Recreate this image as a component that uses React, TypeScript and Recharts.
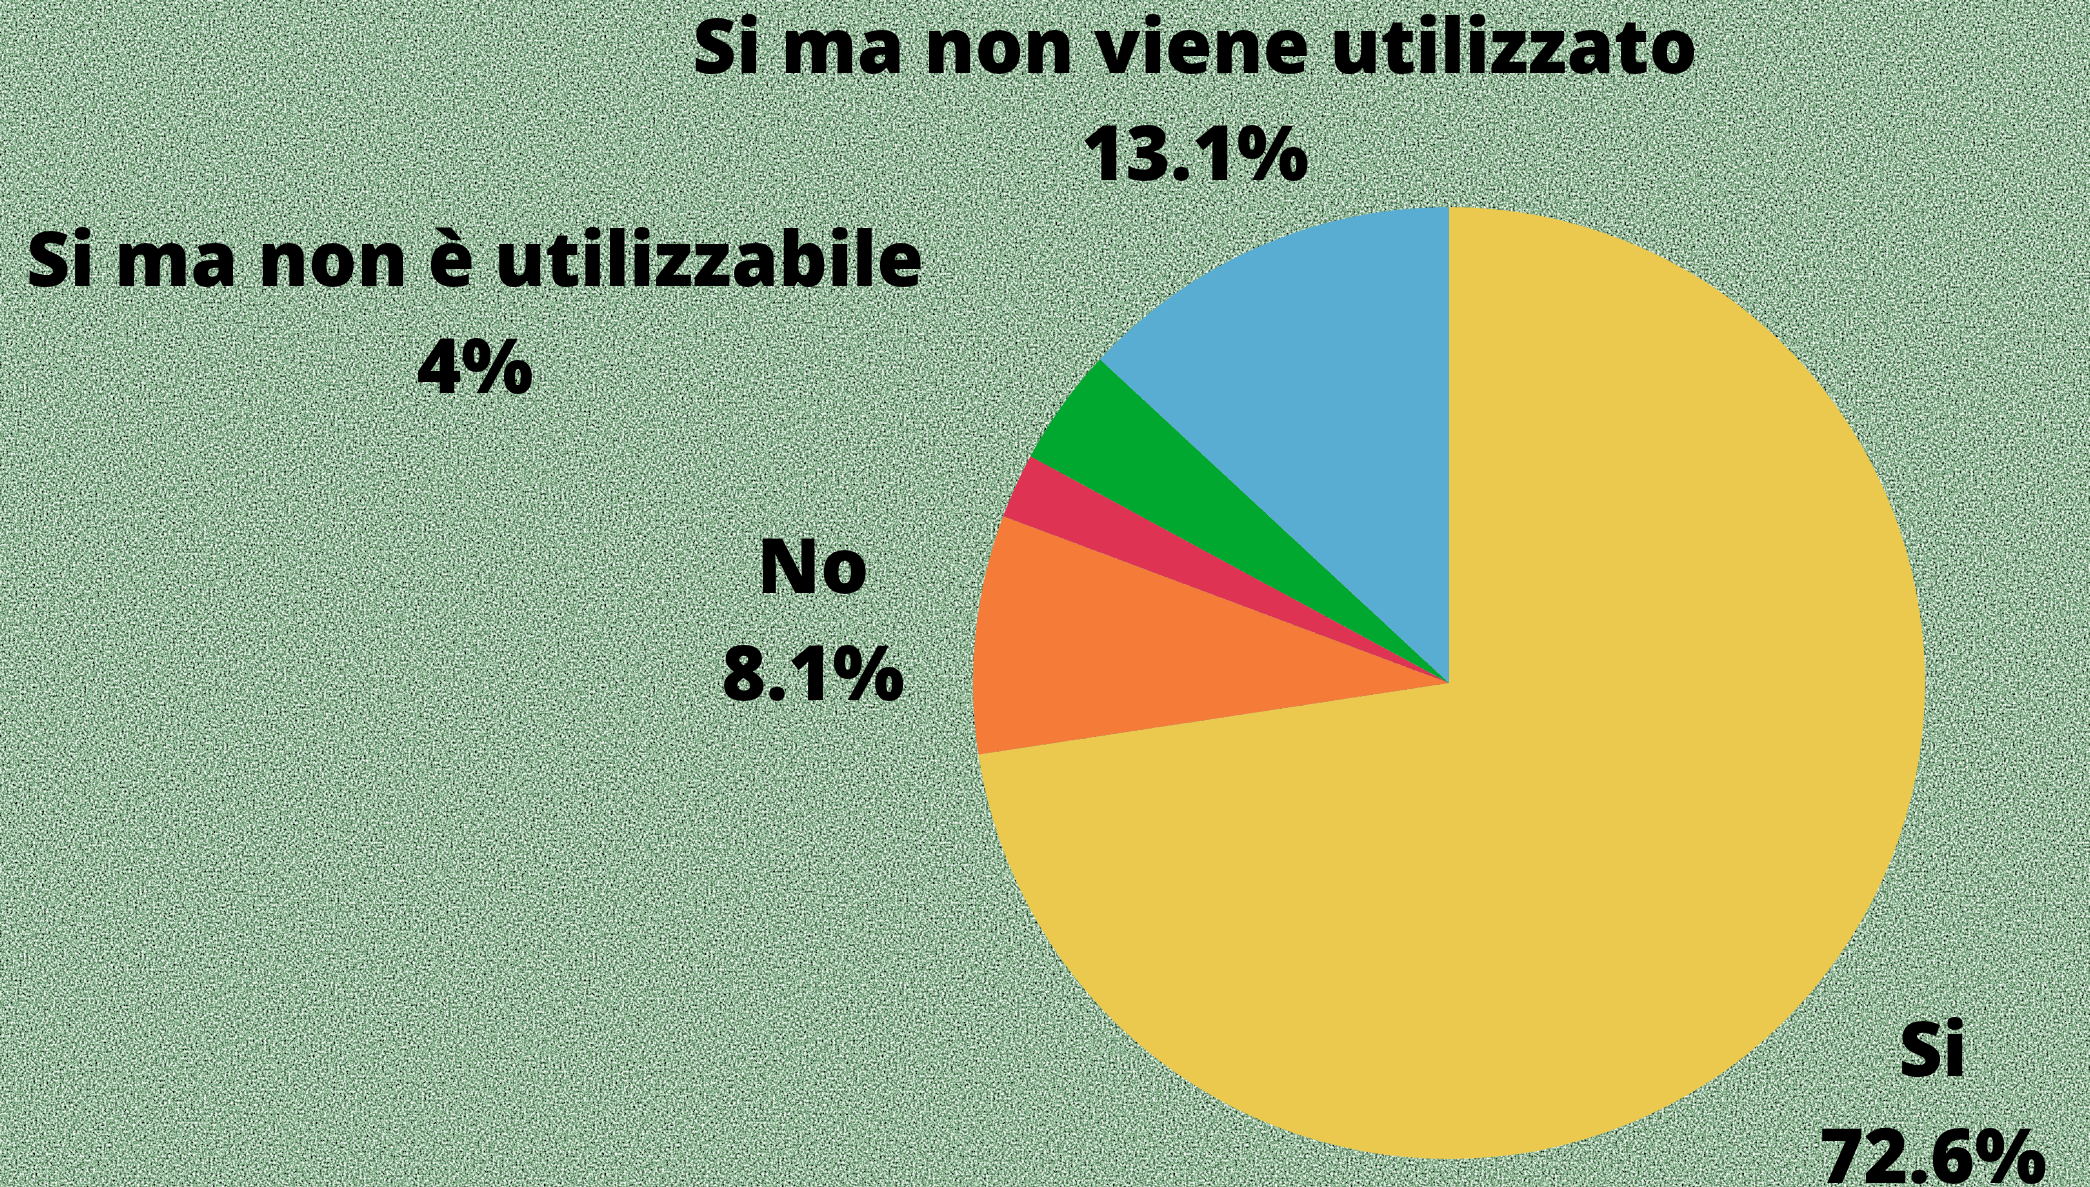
import { PieChart, Pie, Cell } from "recharts";

const labels = ["Si", "No", "Non so", "Si ma non è utilizzabile", "Si ma non viene utilizzato"];
const values = [72.6, 8.1, 2.2, 4, 13.1];
const valueText = ["72.6%", "8.1%", "", "4%", "13.1%"];
const showLabel = [true, true, false, true, true];

const COLORS = ["#EBC94F", "#F47B38", "#DE3353", "#00A82F", "#59ADD3"];
// label anchor offsets from the pie centre (first line baseline)
const LABEL_OFFSETS: [number, number][] = [
  [484, 393],
  [-636, -90],
  [0, 0],
  [-974, -397],
  [-254, -610],
];

const W = 2090;
const H = 1187;

const data = labels.map((name, i) => ({ name, value: values[i] }));

function renderLabel(props: any) {
  const { cx, cy, index } = props;
  if (!showLabel[index]) return null;
  const [dx, dy] = LABEL_OFFSETS[index];
  const x = cx + dx;
  const y = cy + dy;
  return (
    <text
      key={`lbl-${index}`}
      x={x}
      y={y}
      textAnchor="middle"
      fill="#000"
      style={{ fontFamily: "'Open Sans', sans-serif", fontWeight: 800, fontSize: 76 }}
    >
      <tspan x={x} y={y}>{labels[index]}</tspan>
      <tspan x={x} y={y + 107}>{valueText[index]}</tspan>
    </text>
  );
}

function Background() {
  return (
    <svg width={W} height={H} style={{ position: "absolute", left: 0, top: 0 }}>
      <defs>
        <filter id="grain" x="0" y="0" width="100%" height="100%">
          <feTurbulence type="fractalNoise" baseFrequency="0.45" numOctaves={2} seed={3} result="noise" />
          <feColorMatrix
            in="noise"
            type="matrix"
            values="1.7 0 0 0 -0.35  1.7 0 0 0 -0.35  1.7 0 0 0 -0.35  0 0 0 0 1"
            result="gray"
          />
          <feBlend in="SourceGraphic" in2="gray" mode="overlay" />
        </filter>
      </defs>
      <rect width={W} height={H} fill="#8CB992" filter="url(#grain)" />
    </svg>
  );
}

export default function App() {
  return (
    <div style={{ position: "absolute", left: 0, top: 0, width: W, height: H, overflow: "hidden" }}>
      <Background />
      <div style={{ position: "absolute", left: 0, top: 0 }}>
        <PieChart width={W} height={H} margin={{ top: 0, right: 0, bottom: 0, left: 0 }}>
          <Pie
            data={data}
            dataKey="value"
            nameKey="name"
            cx={1449}
            cy={683}
            outerRadius={476}
            startAngle={90}
            endAngle={-270}
            stroke="none"
            label={renderLabel}
            labelLine={false}
            isAnimationActive={false}
          >
            {data.map((d, i) => (
              <Cell key={d.name} fill={COLORS[i]} />
            ))}
          </Pie>
        </PieChart>
      </div>
    </div>
  );
}
